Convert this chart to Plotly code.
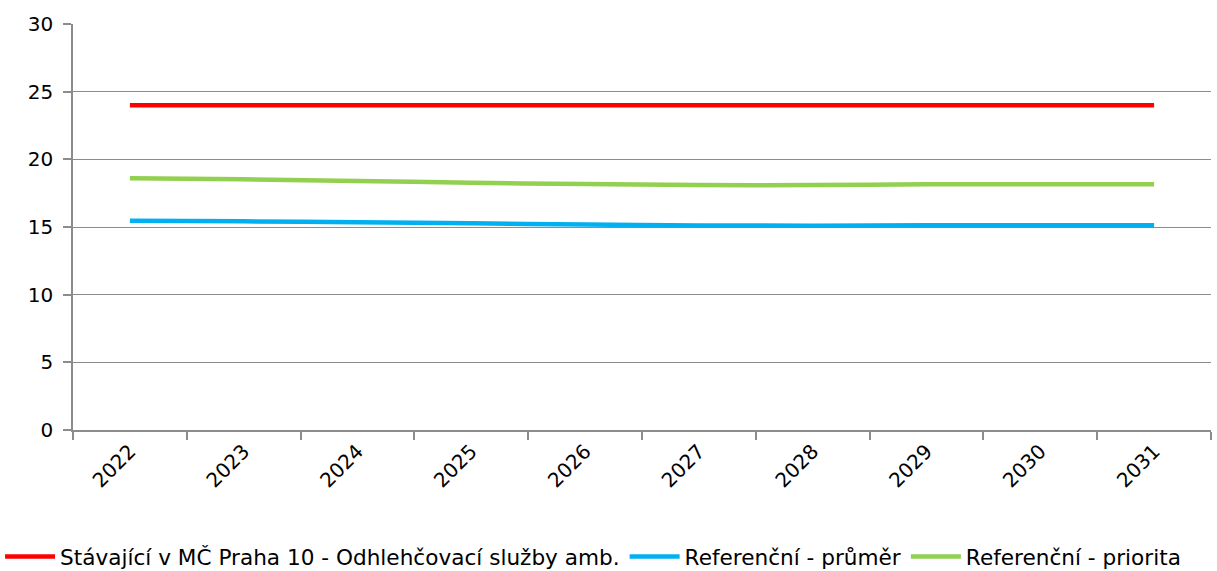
import plotly.graph_objects as go

years = ["2022", "2023", "2024", "2025", "2026", "2027", "2028", "2029", "2030", "2031"]
stavajici = [24, 24, 24, 24, 24, 24, 24, 24, 24, 24]
ref_prumer = [15.47, 15.42, 15.35, 15.27, 15.18, 15.12, 15.1, 15.13, 15.13, 15.13]
ref_priorita = [18.6, 18.53, 18.4, 18.27, 18.17, 18.1, 18.1, 18.15, 18.15, 18.15]

names = ["Stávající v MČ Praha 10 - Odhlehčovací služby amb.", "Referenční - průměr", "Referenční - priorita"]
colors = ["#FF0000", "#00B0F0", "#92D050"]
series = [stavajici, ref_prumer, ref_priorita]

fig = go.Figure()
for n, c, s in zip(names, colors, series):
    fig.add_trace(go.Scatter(x=years, y=s, name=n, mode="lines",
                             line=dict(color=c, width=4.5, shape="spline")))

axis_col = "#8C8C8C"
fig.update_layout(
    width=1217, height=571,
    margin=dict(l=73, r=6, t=24, b=141, autoexpand=False),
    paper_bgcolor="white", plot_bgcolor="white",
    font=dict(family="DejaVu Sans, Verdana, sans-serif", size=20, color="#000000"),
    showlegend=True,
    legend=dict(orientation="h", x=-0.0641, xanchor="left", y=-0.313, yanchor="middle",
                font=dict(size=21.6), itemwidth=50, tracegroupgap=0),
    xaxis=dict(type="category", range=[-0.5, 9.5], showline=True, linecolor=axis_col, linewidth=1.5,
               ticks="outside", ticklen=8, tickcolor=axis_col, tickwidth=1.5, tickson="boundaries",
               tickangle=-45, showgrid=False, tickfont=dict(size=20), automargin=False),
    yaxis=dict(range=[0, 30], dtick=5, showline=True, linecolor=axis_col, linewidth=1.5,
               ticks="outside", ticklen=8, tickcolor=axis_col, tickwidth=1.5,
               showgrid=True, gridcolor=axis_col, gridwidth=1.2, zeroline=False,
               tickfont=dict(size=20), automargin=False, ticklabelstandoff=6),
)

fig.write_html("out.html", config={"displayModeBar": False},
               post_script="document.body.style.margin='0px';")
